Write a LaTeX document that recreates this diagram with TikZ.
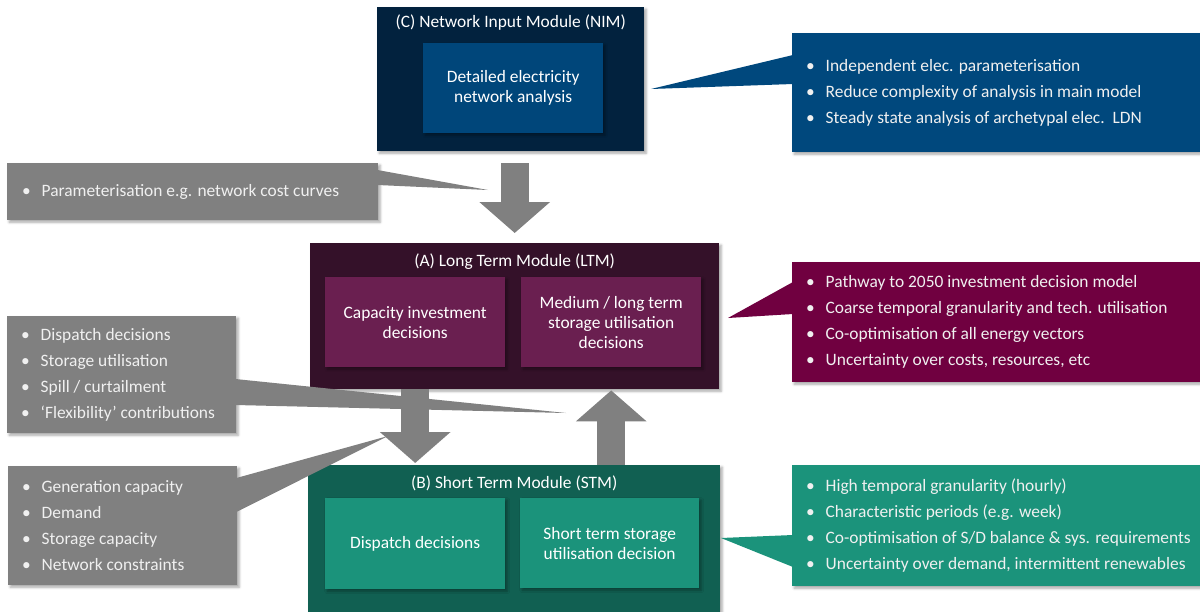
\documentclass[tikz,border=0pt]{standalone}
\usepackage{fontspec}
\setmainfont{Carlito}
\usetikzlibrary{calc,arrows.meta,shadows.blur}

\definecolor{nimouter}{RGB}{2,34,62}
\definecolor{niminner}{RGB}{0,70,122}
\definecolor{ltmouter}{RGB}{52,17,41}
\definecolor{ltminner}{RGB}{106,31,80}
\definecolor{stmouter}{RGB}{17,96,82}
\definecolor{stminner}{RGB}{27,147,123}
\definecolor{noteblue}{RGB}{0,72,125}
\definecolor{notewine}{RGB}{112,0,64}
\definecolor{noteteal}{RGB}{27,147,123}
\definecolor{notegrey}{RGB}{128,128,128}

% bullet followed by a fixed indent
\newcommand{\bul}{\makebox[19.5pt][l]{\textbullet}}

\tikzset{
  every node/.style={text=white},
  shade box/.style={blur shadow={shadow xshift=2pt,shadow yshift=-2pt,shadow blur radius=2.5pt,shadow opacity=35}},
  module/.style={anchor=north west, inner sep=0pt, shade box},
  block/.style={anchor=north west, inner sep=0pt, shade box, align=center,
                font=\fontsize{17.4}{20}\selectfont},
  title/.style={inner sep=0pt, font=\fontsize{17.4}{20}\selectfont},
  notebox/.style={anchor=north west, inner sep=0pt, shade box},
  notetext/.style={anchor=west, inner sep=0pt, align=left,
                   font=\fontsize{17.4}{26}\selectfont, text=white!94!black},
  blockarrow/.style={draw=notegrey, line width=28pt,
                     -{Triangle[width=69pt,length=31pt]}},
}

\begin{document}
\begin{tikzpicture}[x=1pt,y=-1pt]
\useasboundingbox (0,0) rectangle (1200,611);

% ---- (C) network input module
\node[module, fill=nimouter, minimum width=267pt, minimum height=144pt] (nim) at (377,7) {};
\node[title] (nimtitle) at ($(nim.north)+(0,16)$) {(C) Network Input Module (NIM)};
\node[block, fill=niminner, minimum width=180pt, minimum height=90pt] (netanalysis) at (423,43)
  {Detailed electricity\\network analysis};

% ---- (A) long term module
\node[module, fill=ltmouter, minimum width=409pt, minimum height=146pt] (ltm) at (310,243) {};
\node[title] (ltmtitle) at ($(ltm.north)+(0,19)$) {(A) Long Term Module (LTM)};
\node[block, fill=ltminner, minimum width=180pt, minimum height=90pt] (capinv) at (325,277)
  {Capacity investment\\decisions};
\node[block, fill=ltminner, minimum width=180pt, minimum height=90pt] (mltstore) at (521,277)
  {Medium / long term\\storage utilisation\\decisions};

% ---- (B) short term module
\node[module, fill=stmouter, minimum width=412pt, minimum height=160pt] (stm) at (308,465) {};
\node[title] (stmtitle) at ($(stm.north)+(0,18)$) {(B) Short Term Module (STM)};
\node[block, fill=stminner, minimum width=180pt, minimum height=91pt] (dispatch) at (325,498)
  {Dispatch decisions};
\node[block, fill=stminner, minimum width=179pt, minimum height=90pt] (ststore) at (520,498)
  {Short term storage\\utilisation decision};

% ---- block arrows between the modules
\draw[blockarrow, shorten <=12pt, shorten >=10pt] (ltm.north |- nim.south) -- (ltm.north);
\draw[blockarrow, shorten >=2pt] (capinv.center |- ltm.south) -- (capinv.center |- stm.north);
\draw[blockarrow, shorten >=1pt] (mltstore.center |- stm.north) -- (mltstore.center |- ltm.south);

% ---- tips of the callout pointers
\coordinate (nimtip) at (651,89);
\coordinate (ltmtip) at (728,318);
\coordinate (stmtip) at (721,538);
\coordinate (paramtip) at (488,190);
\coordinate (flextip) at (566,413);
\coordinate (captip) at (388,436);

% ---- grey exchange notes
\node[notebox, fill=notegrey, minimum width=371pt, minimum height=57pt] (paramnote) at (7,163) {};
\fill[notegrey] ($(paramnote.north east)+(-1,7)$) -- (paramtip) -- ($(paramnote.north east)+(-1,22)$) -- cycle;
\node[notetext] at ($(paramnote.west)+(15,0)$) {\bul Parameterisation e.g. network cost curves};

\node[notebox, fill=notegrey, minimum width=229pt, minimum height=117pt] (flexnote) at (7,316) {};
\fill[notegrey] ($(flexnote.north east)+(-1,63)$) -- (flextip) -- ($(flexnote.north east)+(-1,89)$) -- cycle;
\node[notetext] at ($(flexnote.west)+(14,0)$)
  {\bul Dispatch decisions\\ \bul Storage utilisation\\ \bul Spill / curtailment\\ \bul ‘Flexibility’ contributions};

\node[notebox, fill=notegrey, minimum width=229pt, minimum height=119pt] (capnote) at (8,466) {};
\fill[notegrey] ($(capnote.north east)+(-1,12)$) -- (captip) -- ($(capnote.north east)+(-1,46)$) -- cycle;
\node[notetext] at ($(capnote.west)+(14,0)$)
  {\bul Generation capacity\\ \bul Demand\\ \bul Storage capacity\\ \bul Network constraints};

% ---- module notes on the right
\node[notebox, fill=noteblue, minimum width=420pt, minimum height=119pt] (nimnotes) at (792,33) {};
\fill[noteblue] ($(nimnotes.north west)+(1,22)$) -- (nimtip) -- ($(nimnotes.north west)+(1,51)$) -- cycle;
\node[notetext] at ($(nimnotes.west)+(14,0)$)
  {\bul Independent elec. parameterisation\\ \bul Reduce complexity of analysis in main model\\ \bul Steady state analysis of archetypal elec.\ \ LDN};

\node[notebox, fill=notewine, minimum width=420pt, minimum height=120pt] (ltmnotes) at (792,262) {};
\fill[notewine] ($(ltmnotes.north west)+(1,20)$) -- (ltmtip) -- ($(ltmnotes.north west)+(1,52)$) -- cycle;
\node[notetext] at ($(ltmnotes.west)+(14,0)$)
  {\bul Pathway to 2050 investment decision model\\ \bul Coarse temporal granularity and tech. utilisation\\ \bul Co-optimisation of all energy vectors\\ \bul Uncertainty over costs, resources, etc};

\node[notebox, fill=noteteal, minimum width=420pt, minimum height=121pt] (stmnotes) at (792,465) {};
\fill[noteteal] ($(stmnotes.north west)+(1,70)$) -- (stmtip) -- ($(stmnotes.north west)+(1,102)$) -- cycle;
\node[notetext] at ($(stmnotes.west)+(14,0)$)
  {\bul High temporal granularity (hourly)\\ \bul Characteristic periods (e.g. week)\\ \bul Co-optimisation of S/D balance \& sys. requirements\\ \bul Uncertainty over demand, intermittent renewables};

\end{tikzpicture}
\end{document}
